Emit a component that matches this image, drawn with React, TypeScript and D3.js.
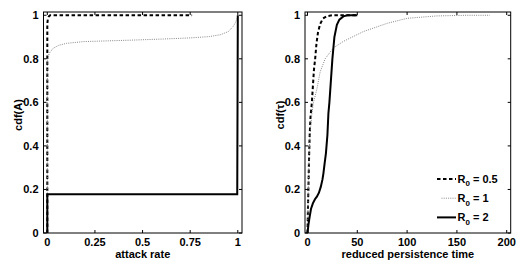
import React, { useEffect, useRef } from 'react';
import * as d3 from 'd3';

// left panel: cdf of attack rate
const attackX05 = [0, 0, 0.003, 0.008, 0.015, 0.03, 0.76];
const attackY05 = [0, 0.96, 0.985, 0.995, 1, 1, 1];
const attackX1 = [0, 0, 0.002, 0.01, 0.03, 0.06, 0.1, 0.19, 0.3, 0.45, 0.61, 0.75, 0.85, 0.91, 0.95, 0.975, 0.99, 1];
const attackY1 = [0, 0.78, 0.8, 0.825, 0.848, 0.862, 0.871, 0.879, 0.882, 0.886, 0.891, 0.896, 0.902, 0.911, 0.925, 0.948, 0.97, 1];
const attackX2 = [0, 0, 0.997, 1];
const attackY2 = [0, 0.178, 0.178, 1];

// right panel: cdf of reduced persistence time
const persX05 = [0, 0.5, 1, 1.5, 2.2, 3, 4.4, 5.5, 6.5, 7.7, 9, 10.5, 12.7, 15.5, 19.5, 25, 35, 50];
const persY05 = [0, 0.12, 0.22, 0.33, 0.45, 0.53, 0.6, 0.68, 0.75, 0.8, 0.87, 0.92, 0.96, 0.985, 0.996, 1, 1, 1];
const persX1 = [0, 0.5, 1, 2, 3, 4.5, 6, 7.7, 9.4, 12.7, 17.7, 26, 36, 56, 80, 100, 130, 160, 183];
const persY1 = [0, 0.12, 0.25, 0.4, 0.48, 0.55, 0.6, 0.63, 0.66, 0.74, 0.8, 0.85, 0.88, 0.925, 0.963, 0.986, 0.997, 1, 1];
const persX2 = [0, 1, 2, 3.5, 5.4, 7.5, 9.4, 11.5, 13.4, 15, 16, 17.2, 18.5, 20, 21, 22, 23.5, 25, 27, 29.5, 32, 36, 40, 50];
const persY2 = [0, 0.04, 0.07, 0.11, 0.136, 0.155, 0.167, 0.185, 0.213, 0.245, 0.274, 0.32, 0.366, 0.45, 0.55, 0.6, 0.7, 0.8, 0.9, 0.956, 0.98, 0.995, 1, 1];

const yTicks = [0, 0.2, 0.4, 0.6, 0.8, 1];
const attackTicks = [0, 0.25, 0.5, 0.75, 1];
const persTicks = [0, 50, 100, 150, 200];
const legendLabels = ['0.5', '1', '2'];

const FONT = 'Liberation Sans, Arial, sans-serif';

const styles = [
  { stroke: '#000', width: 2, dash: '3.5 2.5' },
  { stroke: '#888', width: 1, dash: '1 1.2' },
  { stroke: '#000', width: 2, dash: null },
];

export default function App() {
  const ref = useRef<SVGSVGElement>(null);

  useEffect(() => {
    const svg = d3.select(ref.current);
    svg.selectAll('*').remove();

    const drawPanel = (opts: any) => {
      const { left, right, top, bottom, xDomain, xTicks, xLabel, yLabel, yLabelX, series } = opts;
      const x = d3.scaleLinear().domain(xDomain).range([left, right]);
      const y = d3.scaleLinear().domain([0, 1.015]).range([bottom, top]);
      const g = svg.append('g');

      // curves
      series.forEach((s: any, i: number) => {
        const pts = s.x.map((v: number, j: number) => [v, s.y[j]]);
        const line = d3.line<number[]>().x(d => x(d[0])).y(d => y(d[1]));
        const st = styles[i];
        g.append('path')
          .attr('d', line(pts))
          .attr('fill', 'none')
          .attr('stroke', st.stroke)
          .attr('stroke-width', st.width)
          .attr('stroke-dasharray', st.dash);
      });

      // box
      g.append('rect')
        .attr('x', left).attr('y', top)
        .attr('width', right - left).attr('height', bottom - top)
        .attr('fill', 'none').attr('stroke', '#000').attr('stroke-width', 1);

      // ticks, inside and mirrored like matlab
      xTicks.forEach((t: number) => {
        g.append('line').attr('x1', x(t)).attr('x2', x(t)).attr('y1', bottom).attr('y2', bottom - 3).attr('stroke', '#000');
        g.append('line').attr('x1', x(t)).attr('x2', x(t)).attr('y1', top).attr('y2', top + 3).attr('stroke', '#000');
        g.append('text')
          .attr('x', x(t)).attr('y', bottom + 12.5)
          .attr('text-anchor', 'middle')
          .style('font-family', FONT).style('font-weight', 'bold').style('font-size', '11px')
          .text(String(t));
      });
      yTicks.forEach(t => {
        g.append('line').attr('x1', left).attr('x2', left + 3).attr('y1', y(t)).attr('y2', y(t)).attr('stroke', '#000');
        g.append('line').attr('x1', right).attr('x2', right - 3).attr('y1', y(t)).attr('y2', y(t)).attr('stroke', '#000');
        g.append('text')
          .attr('x', left - 5).attr('y', y(t) + 4)
          .attr('text-anchor', 'end')
          .style('font-family', FONT).style('font-weight', 'bold').style('font-size', '11px')
          .text(String(t));
      });

      g.append('text')
        .attr('x', (left + right) / 2).attr('y', 257.5)
        .attr('text-anchor', 'middle')
        .style('font-family', FONT).style('font-weight', 'bold').style('font-size', '11px')
        .text(xLabel);

      g.append('text')
        .attr('transform', `translate(${yLabelX + 4},115) rotate(-90)`)
        .attr('text-anchor', 'middle')
        .style('font-family', FONT).style('font-weight', 'bold').style('font-size', '11px')
        .text(yLabel);

      return { g, x, y };
    };

    drawPanel({
      left: 43.5, right: 242, top: 12, bottom: 233,
      xDomain: [-0.02, 1.022],
      xTicks: attackTicks,
      xLabel: 'attack rate',
      yLabel: 'cdf(A)',
      yLabelX: 17.5,
      series: [
        { x: attackX05, y: attackY05 },
        { x: attackX1, y: attackY1 },
        { x: attackX2, y: attackY2 },
      ],
    });

    const right = drawPanel({
      left: 305, right: 510.7, top: 12, bottom: 233,
      xDomain: [-2.5, 204],
      xTicks: persTicks,
      xLabel: 'reduced persistence time',
      yLabel: 'cdf(τ)',
      yLabelX: 280,
      series: [
        { x: persX05, y: persY05 },
        { x: persX1, y: persY1 },
        { x: persX2, y: persY2 },
      ],
    });

    // legend, no frame
    legendLabels.forEach((lab, i) => {
      const ly = 179 + i * 19.2;
      const st = styles[i];
      right.g.append('line')
        .attr('x1', i === 1 ? 441.5 : 437).attr('x2', 456)
        .attr('y1', ly).attr('y2', ly)
        .attr('stroke', st.stroke).attr('stroke-width', st.width)
        .attr('stroke-dasharray', st.dash);
      const t = right.g.append('text')
        .attr('x', 457.5).attr('y', ly + 3.8)
        .style('font-family', FONT).style('font-weight', 'bold').style('font-size', '11px');
      t.append('tspan').text('R');
      t.append('tspan').attr('dy', 3.5).style('font-size', '8px').text('0');
      t.append('tspan').attr('dy', -3.5).text(` = ${lab}`);
    });
  }, []);

  return (
    <div style={{ position: 'fixed', left: 0, top: 0 }}>
      <svg ref={ref} width={527} height={265} style={{ display: 'block', background: 'white' }} />
    </div>
  );
}
